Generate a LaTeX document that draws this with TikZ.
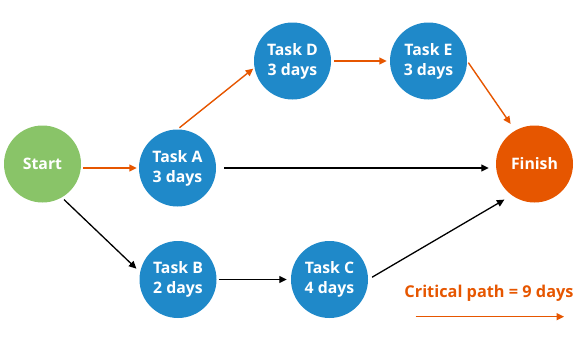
\documentclass[tikz,border=0pt]{standalone}
\usepackage{fontspec}
\setmainfont{Open Sans}
\usetikzlibrary{arrows.meta}
\definecolor{taskblue}{RGB}{31,137,201}
\definecolor{startgreen}{RGB}{137,196,104}
\definecolor{finorange}{RGB}{230,86,0}
\tikzset{
  task/.style={circle, fill=taskblue, minimum size=77pt, inner sep=0pt, text=white, align=center,
    font=\fontsize{15.8}{20}\selectfont\bfseries},
  startnode/.style={task, fill=startgreen},
  finishnode/.style={task, fill=finorange},
  crit/.style={draw=finorange, line width=1.4pt, -{Triangle[length=7.5pt,width=7pt]}},
  normal/.style={draw=black, line width=1.3pt, -{Triangle[length=7.5pt,width=7pt]}},
  legendtext/.style={text=finorange, font=\fontsize{16.3}{18}\selectfont\bfseries}
}
\begin{document}
\begin{tikzpicture}[x=1pt,y=-1pt]
\useasboundingbox (0,0) rectangle (576,340);
\node[startnode] (start) at (42.5,164) {Start};
\node[task] (a) at (177.5,168) {Task A\\3 days};
\node[task] (d) at (292.5,61) {Task D\\3 days};
\node[task] (e) at (428.5,61) {Task E\\3 days};
\node[finishnode] (finish) at (534.5,164) {Finish};
\node[task] (b) at (178,279.5) {Task B\\2 days};
\node[task] (c) at (329.5,279.5) {Task C\\4 days};
\node[legendtext] (legend) at (489,293) {Critical path = 9 days};
\coordinate (l1) at (415.7,316.7);
\coordinate (l2) at (564,316.7);

\draw[crit, shorten <=2pt, shorten >=2pt] (start.east |- a.west) -- (a.west);
\draw[crit, shorten <=2.5pt, shorten >=1.5pt] (a.north) -- (d.190);
\draw[crit, shorten <=3pt, shorten >=3pt] (d.east) -- (e.west);
\draw[crit, shorten <=2pt, shorten >=8pt] (e.east) -- (finish.120);
\draw[normal, shorten <=8pt, shorten >=7pt] (a.east) -- (a.east -| finish.west);
\draw[normal, shorten <=3pt, shorten >=5pt] (start.-60) -- (b.169);
\draw[normal, shorten <=2pt, shorten >=4pt] (b.east) -- (c.west);
\draw[normal, shorten <=4.5pt, shorten >=8.5pt] (c.east) -- (finish.234);
\draw[crit] (l1) -- (l2);
\end{tikzpicture}
\end{document}
